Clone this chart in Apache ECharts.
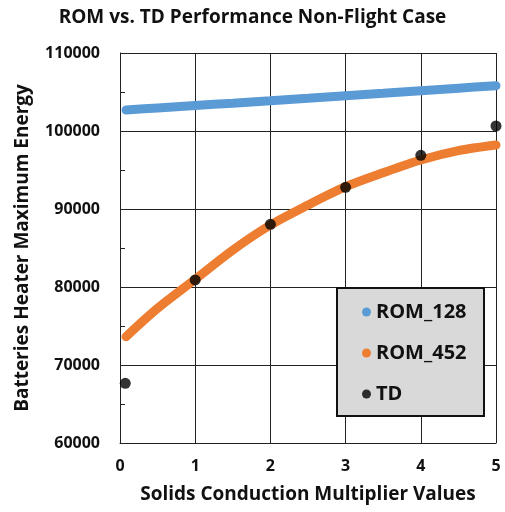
<!DOCTYPE html>
<html>
<head>
<meta charset="utf-8">
<script src="https://cdn.jsdelivr.net/npm/echarts@6/dist/echarts.min.js"></script>
<style>
  html, body { margin: 0; padding: 0; background: #fff; }
  #chart { width: 505px; height: 512px; }
</style>
</head>
<body>
<div id="chart"></div>
<script>
// values
const romX = [0.08, 0.5, 1, 1.5, 2, 2.5, 3, 3.5, 4, 4.5, 5];
const rom128 = [102690, 102960, 103270, 103570, 103880, 104200, 104530, 104850, 105170, 105490, 105810];
const rom452 = [73630, 77270, 80990, 84740, 87950, 90510, 92860, 94650, 96280, 97480, 98200];
const tdX = [0.07, 1, 2, 3, 4, 5];
const td = [67650, 80900, 88040, 92780, 96880, 100640];

const chart = echarts.init(document.getElementById('chart'));
const font = '"Open Sans", sans-serif';

function pairs(xs, ys) {
    return xs.map((x, i) => [x, ys[i]]);
}

chart.setOption({
    animation: false,
    title: {
        text: 'ROM vs. TD Performance Non-Flight Case',
        left: 'center',
        top: 3,
        textStyle: { fontFamily: font, fontWeight: 'bold', fontSize: 19, color: '#111' }
    },
    grid: { left: 120, right: 9, top: 53, bottom: 69 },
    graphic: [{
        type: 'rect',
        shape: { x: 337, y: 288, width: 147, height: 128 },
        style: { fill: '#d9d9d9', stroke: '#111', lineWidth: 2 },
        z: 10
    }],
    legend: {
        orient: 'vertical',
        left: 357,
        top: 297,
        itemGap: 21,
        icon: 'circle',
        itemWidth: 9,
        itemHeight: 9,
        z: 11,
        textStyle: { fontFamily: font, fontWeight: 'bold', fontSize: 20, color: '#111' },
        data: ['ROM_128', 'ROM_452', 'TD']
    },
    xAxis: {
        type: 'value',
        min: 0, max: 5, interval: 1,
        name: 'Solids Conduction Multiplier Values',
        nameLocation: 'middle',
        nameGap: 42,
        nameTextStyle: { fontFamily: font, fontWeight: 'bold', fontSize: 19, color: '#111' },
        axisLine: { lineStyle: { color: '#222' } },
        axisTick: { show: false },
        axisLabel: { fontFamily: font, fontWeight: 'bold', fontSize: 16, color: '#111', margin: 15 },
        splitLine: { lineStyle: { color: '#222' } }
    },
    yAxis: {
        type: 'value',
        min: 60000, max: 110000, interval: 10000,
        name: 'Batteries Heater Maximum Energy',
        nameLocation: 'middle',
        nameGap: 88,
        nameTextStyle: { fontFamily: font, fontWeight: 'bold', fontSize: 19, color: '#111' },
        axisLine: { show: true, lineStyle: { color: '#222' } },
        axisTick: { show: true, inside: true, length: 5, lineStyle: { color: '#222' } },
        minorTick: { show: true, splitNumber: 2, length: 5, lineStyle: { color: '#222' } },
        axisLabel: {
            fontFamily: font, fontWeight: 'bold', fontSize: 16, color: '#111', margin: 20,
            formatter: v => String(v)
        },
        splitLine: { lineStyle: { color: '#222' } }
    },
    series: [
        {
            name: 'ROM_128',
            type: 'line',
            smooth: 0.3,
            showSymbol: false,
            symbol: 'circle',
            color: '#5b9bd5',
            lineStyle: { width: 9, cap: 'round', color: '#5b9bd5' },
            data: pairs(romX, rom128)
        },
        {
            name: 'ROM_452',
            type: 'line',
            smooth: 0.3,
            showSymbol: false,
            symbol: 'circle',
            color: '#ed7d31',
            lineStyle: { width: 9, cap: 'round', color: '#ed7d31' },
            data: pairs(romX, rom452)
        },
        {
            name: 'TD',
            type: 'scatter',
            symbol: 'circle',
            symbolSize: 11,
            z: 5,
            color: '#000',
            itemStyle: { color: '#000' },
            data: pairs(tdX, td)
        }
    ]
});

window.addEventListener('resize', function() {
    chart.resize();
});
</script>
</body>
</html>
